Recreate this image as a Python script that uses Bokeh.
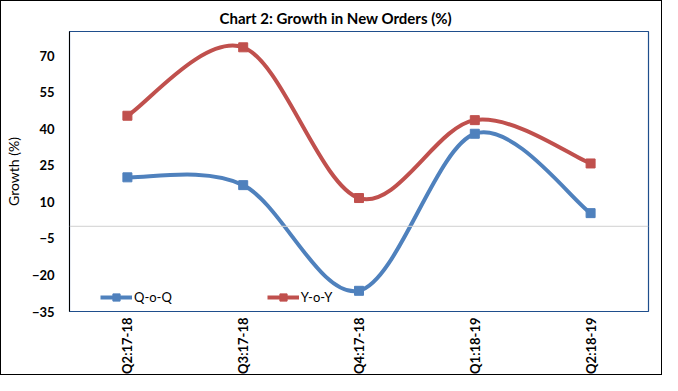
import math
from bokeh.plotting import figure
from bokeh.models import (FixedTicker, Span, Legend, LegendItem, Range1d)
from bokeh.embed import file_html
from bokeh.resources import INLINE

# ---- data ----
categories = ["Q2:17-18", "Q3:17-18", "Q4:17-18", "Q1:18-19", "Q2:18-19"]
qoq = [20.1, 16.9, -26.5, 38.0, 5.4]
yoy = [45.4, 73.5, 11.6, 43.6, 25.8]
y_ticks = [-35, -20, -5, 10, 25, 40, 55, 70]

BLUE = "#4F81BD"
RED = "#C0504D"
FONT = "Lato"

xs = list(range(1, len(categories) + 1))

p = figure(width=662, height=375, output_backend="svg", toolbar_location=None,
           x_range=Range1d(0.5, len(categories) + 0.5), y_range=Range1d(-35, 80),
           min_border_left=64, min_border_right=15, min_border_top=30,
           min_border_bottom=62)
p.styles = {"border": "1px solid black"}

p.title.text = "Chart 2: Growth in New Orders (%)"
p.title.align = "left"
p.title.offset = 150
p.title.text_font = FONT
p.title.text_font_size = "15px"
p.title.text_font_style = "bold"
p.title.text_color = "black"
p.title.standoff = 9

p.xgrid.visible = False
p.ygrid.visible = False
p.outline_line_color = "#1F4E8C"
p.outline_line_width = 1.2
p.outline_line_alpha = 1

# y axis
p.yaxis.ticker = FixedTicker(ticks=y_ticks)
p.yaxis.axis_line_color = "black"
p.yaxis.major_tick_line_color = None
p.yaxis.minor_tick_line_color = None
p.yaxis.major_tick_out = 0
p.yaxis.major_tick_in = 0
p.yaxis.minor_tick_out = 0
p.yaxis.major_label_text_font = FONT
p.yaxis.major_label_text_font_size = "13px"
p.yaxis.major_label_text_font_style = "bold"
p.yaxis.major_label_text_color = "black"
p.yaxis.major_label_standoff = 15
p.yaxis.axis_label = "Growth (%)"
p.yaxis.axis_label_text_font = FONT
p.yaxis.axis_label_text_font_size = "14px"
p.yaxis.axis_label_text_font_style = "normal"
p.yaxis.axis_label_text_color = "black"
p.yaxis.axis_label_standoff = 7

# x axis
p.xaxis.ticker = FixedTicker(ticks=xs)
p.xaxis.major_label_overrides = {x: c for x, c in zip(xs, categories)}
p.xaxis.axis_line_color = None
p.xaxis.major_tick_line_color = None
p.xaxis.minor_tick_line_color = None
p.xaxis.major_tick_out = 0
p.xaxis.major_tick_in = 0
p.xaxis.minor_tick_out = 0
p.xaxis.axis_label_standoff = 0
p.xaxis.major_label_orientation = math.pi / 2
p.xaxis.major_label_text_font = FONT
p.xaxis.major_label_text_font_size = "13px"
p.xaxis.major_label_text_font_style = "bold"
p.xaxis.major_label_text_color = "black"
p.xaxis.major_label_standoff = 6

p.add_layout(Span(location=0, dimension="width", line_color="#D0D0D0", line_width=1))


def smooth(xv, yv):
    """Bezier segments (Excel-style smoothed line) through the data points."""
    n = len(xv)
    out = dict(x0=[], y0=[], x1=[], y1=[], cx0=[], cy0=[], cx1=[], cy1=[])
    for i in range(n - 1):
        a = i - 1 if i > 0 else i
        d = i + 2 if i + 2 < n else i + 1
        out["x0"].append(xv[i]); out["y0"].append(yv[i])
        out["x1"].append(xv[i + 1]); out["y1"].append(yv[i + 1])
        out["cx0"].append(xv[i] + (xv[i + 1] - xv[a]) / 6)
        out["cy0"].append(yv[i] + (yv[i + 1] - yv[a]) / 6)
        out["cx1"].append(xv[i + 1] - (xv[d] - xv[i]) / 6)
        out["cy1"].append(yv[i + 1] - (yv[d] - yv[i]) / 6)
    return out


items = []
for name, vals, col in [("Q-o-Q", qoq, BLUE), ("Y-o-Y", yoy, RED)]:
    p.bezier(line_color=col, line_width=4, **smooth(xs, vals))
    mark = p.scatter(xs, vals, marker="square", size=9, fill_color=col, line_color=col)
    lg_line = p.line(xs, vals, line_color=col, line_width=4, visible=False)
    items.append(LegendItem(label=name, renderers=[lg_line, mark], index=0))

legend = Legend(items=items, orientation="horizontal", location=(31, 5),
                padding=0, margin=0, spacing=95, glyph_width=32, glyph_height=18,
                label_standoff=2, border_line_color=None, background_fill_alpha=0,
                label_text_font=FONT, label_text_font_size="13px",
                label_text_color="black")
p.add_layout(legend, "center")

open("out.html", "w").write(file_html(p, INLINE))
